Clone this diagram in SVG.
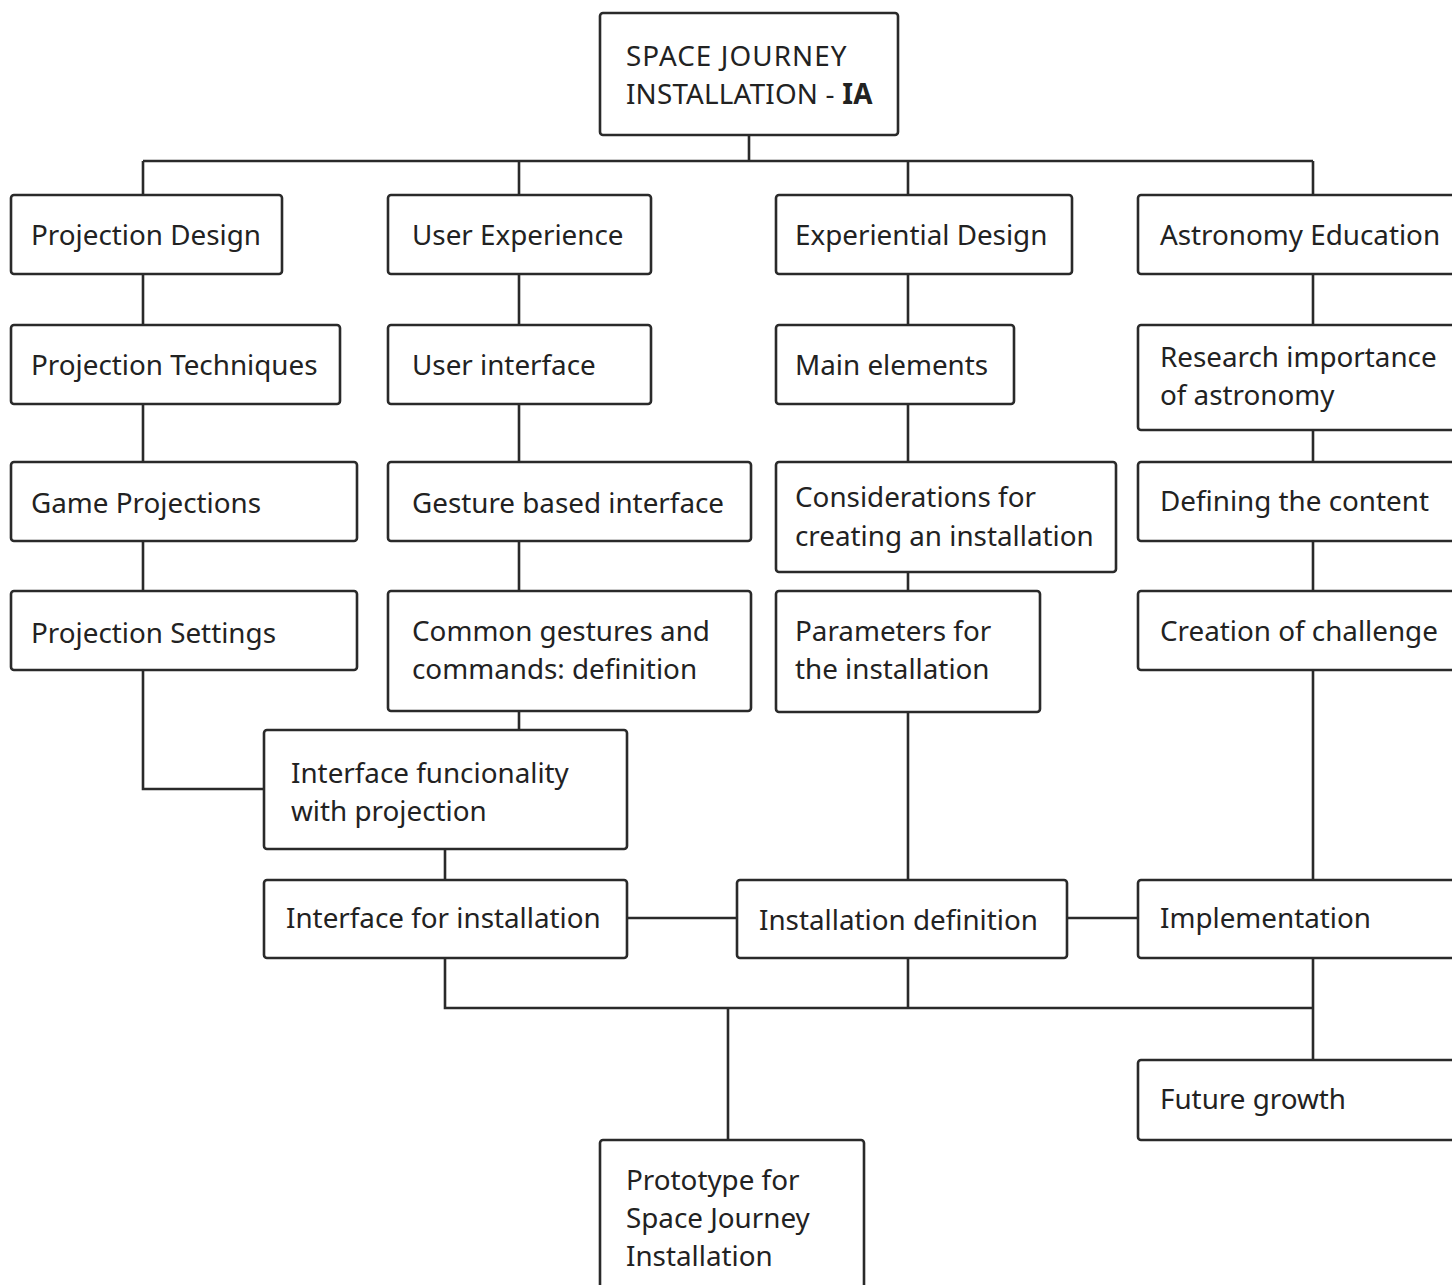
<svg xmlns="http://www.w3.org/2000/svg" width="1452" height="1285" viewBox="0 0 1452 1285">
<style>
.b{fill:#fff;stroke:#2a2a2a;stroke-width:2.6}
.t{font-family:"Noto Sans","Open Sans",sans-serif;font-size:27.8px;fill:#222}
.c{fill:none;stroke:#2a2a2a;stroke-width:2.6}
</style>
<rect width="1452" height="1285" fill="#fff"/>
<g id="connectors" class="c">
<path d="M749 135V161M143 161H1313M143 161V195M519 161V195M908 161V195M1313 161V195"/>
<path d="M143 274V325M519 274V325M908 274V325M1313 274V325"/>
<path d="M143 404V462M519 404V462M908 404V462M1313 430V462"/>
<path d="M143 541V591M519 541V591M908 572V591M1313 541V591"/>
<path d="M143 670V789H264M519 711V730M445 849V880M908 712V880M1313 670V880"/>
<path d="M627 918H737M1067 918H1138"/>
<path d="M445 958V1008H1313M908 958V1008M1313 958V1060M728 1008V1140"/>
</g>
<g id="n0"><rect class="b" x="600" y="13" width="298" height="122" rx="3"/><text class="t" x="626" y="66" letter-spacing="1.1">SPACE JOURNEY</text><text class="t" x="626" y="104" letter-spacing="0.2">INSTALLATION - <tspan font-weight="bold">IA</tspan></text></g>
<g id="n1"><rect class="b" x="11" y="195" width="271" height="79" rx="3"/><text class="t" x="31" y="245">Projection Design</text></g>
<g id="n2"><rect class="b" x="388" y="195" width="263" height="79" rx="3"/><text class="t" x="412" y="245">User Experience</text></g>
<g id="n3"><rect class="b" x="776" y="195" width="296" height="79" rx="3"/><text class="t" x="795" y="245">Experiential Design</text></g>
<g id="n4"><rect class="b" x="1138" y="195" width="330" height="79" rx="3"/><text class="t" x="1160" y="245">Astronomy Education</text></g>
<g id="n5"><rect class="b" x="11" y="325" width="329" height="79" rx="3"/><text class="t" x="31" y="375">Projection Techniques</text></g>
<g id="n6"><rect class="b" x="388" y="325" width="263" height="79" rx="3"/><text class="t" x="412" y="375">User interface</text></g>
<g id="n7"><rect class="b" x="776" y="325" width="238" height="79" rx="3"/><text class="t" x="795" y="375">Main elements</text></g>
<g id="n8"><rect class="b" x="1138" y="325" width="330" height="105" rx="3"/><text class="t" x="1160" y="367">Research importance</text><text class="t" x="1160" y="405">of astronomy</text></g>
<g id="n9"><rect class="b" x="11" y="462" width="346" height="79" rx="3"/><text class="t" x="31" y="513">Game Projections</text></g>
<g id="n10"><rect class="b" x="388" y="462" width="363" height="79" rx="3"/><text class="t" x="412" y="513">Gesture based interface</text></g>
<g id="n11"><rect class="b" x="776" y="462" width="340" height="110" rx="3"/><text class="t" x="795" y="507">Considerations for</text><text class="t" x="795" y="546">creating an installation</text></g>
<g id="n12"><rect class="b" x="1138" y="462" width="330" height="79" rx="3"/><text class="t" x="1160" y="511">Defining the content</text></g>
<g id="n13"><rect class="b" x="11" y="591" width="346" height="79" rx="3"/><text class="t" x="31" y="643">Projection Settings</text></g>
<g id="n14"><rect class="b" x="388" y="591" width="363" height="120" rx="3"/><text class="t" x="412" y="641">Common gestures and</text><text class="t" x="412" y="679">commands: definition</text></g>
<g id="n15"><rect class="b" x="776" y="591" width="264" height="121" rx="3"/><text class="t" x="795" y="641">Parameters for</text><text class="t" x="795" y="679">the installation</text></g>
<g id="n16"><rect class="b" x="1138" y="591" width="330" height="79" rx="3"/><text class="t" x="1160" y="641">Creation of challenge</text></g>
<g id="n17"><rect class="b" x="264" y="730" width="363" height="119" rx="3"/><text class="t" x="291" y="783">Interface funcionality</text><text class="t" x="291" y="821">with projection</text></g>
<g id="n18"><rect class="b" x="264" y="880" width="363" height="78" rx="3"/><text class="t" x="286" y="928">Interface for installation</text></g>
<g id="n19"><rect class="b" x="737" y="880" width="330" height="78" rx="3"/><text class="t" x="759" y="930">Installation definition</text></g>
<g id="n20"><rect class="b" x="1138" y="880" width="330" height="78" rx="3"/><text class="t" x="1160" y="928">Implementation</text></g>
<g id="n21"><rect class="b" x="1138" y="1060" width="330" height="80" rx="3"/><text class="t" x="1160" y="1109">Future growth</text></g>
<g id="n22"><rect class="b" x="600" y="1140" width="264" height="170" rx="3"/><text class="t" x="626" y="1190">Prototype for</text><text class="t" x="626" y="1228">Space Journey</text><text class="t" x="626" y="1266">Installation</text></g>
</svg>
